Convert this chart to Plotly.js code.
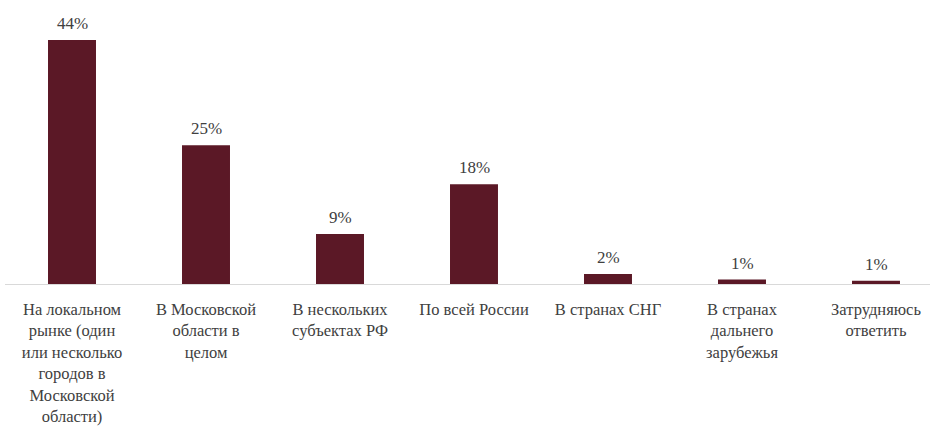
<!DOCTYPE html>
<html>
<head>
<meta charset="utf-8">
<script src="https://cdn.plot.ly/plotly-3.0.1.min.js"></script>
<style>
html,body{margin:0;padding:0;background:#fff;}
#chart{width:930px;height:428px;}
#chart svg text{font-family:"Liberation Serif","DejaVu Serif","Times New Roman",Times,serif !important;}
</style>
</head>
<body>
<div id="chart"></div>
<script>
const categories = [
  "На локальном<br>рынке (один<br>или несколько<br>городов в<br>Московской<br>области)",
  "В Московской<br>области в<br>целом",
  "В нескольких<br>субъектах РФ",
  "По всей России",
  "В странах СНГ",
  "В странах<br>дальнего<br>зарубежья",
  "Затрудняюсь<br>ответить"
];
const values = [44, 25, 9, 18, 1.8, 0.8, 0.6];
const valueLabels = ["44%", "25%", "9%", "18%", "2%", "1%", "1%"];

const FONT = 'Liberation Serif, DejaVu Serif, serif';

const trace = {
  type: 'bar',
  x: categories,
  y: values,
  marker: {color: '#5B1826'},
  hoverinfo: 'none'
};

const annotations = categories.map((c, i) => ({
  x: c,
  y: values[i],
  xref: 'x',
  yref: 'y',
  text: valueLabels[i],
  showarrow: false,
  yanchor: 'bottom',
  yshift: 5,
  font: {family: FONT, size: 17, color: '#404040'}
}));

const layout = {
  width: 930,
  height: 428,
  margin: {l: 5, r: 0, t: 20, b: 144},
  paper_bgcolor: '#fff',
  plot_bgcolor: '#fff',
  showlegend: false,
  bargap: 0.642,
  font: {family: FONT, size: 16, color: '#404040'},
  annotations: annotations,
  xaxis: {
    type: 'category',
    range: [-0.5, 6.403],
    showline: true,
    linecolor: '#d9d9d9',
    linewidth: 1,
    ticks: '',
    showgrid: false,
    zeroline: false,
    tickangle: 0,
    ticklabelstandoff: 10,
    tickfont: {family: FONT, size: 16.5, color: '#404040'}
  },
  yaxis: {
    range: [0, 47.6],
    visible: false,
    showgrid: false,
    zeroline: false
  }
};

Plotly.newPlot('chart', [trace], layout, {staticPlot: true});
</script>
</body>
</html>
